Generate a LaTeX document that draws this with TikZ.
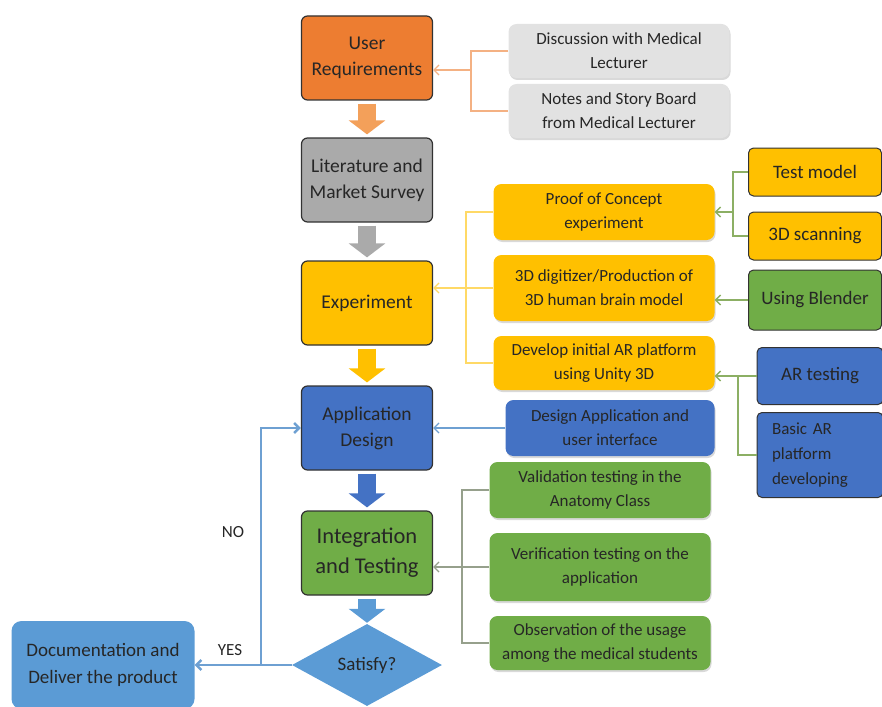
\documentclass[tikz,border=0pt]{standalone}
\usepackage{fontspec}
\setmainfont{Carlito}
\usetikzlibrary{arrows.meta,positioning,shapes.geometric,shadows}
\definecolor{boxorange}{RGB}{237,125,49}
\definecolor{boxgray}{RGB}{170,170,170}
\definecolor{boxyellow}{RGB}{255,192,0}
\definecolor{boxblue}{RGB}{68,114,196}
\definecolor{boxgreen}{RGB}{112,173,71}
\definecolor{boxsky}{RGB}{91,155,213}
\definecolor{boxlight}{RGB}{226,226,226}
\definecolor{lineblack}{RGB}{50,50,50}
\definecolor{textdark}{RGB}{38,38,38}
\definecolor{arroworange}{RGB}{243,160,90}
\definecolor{lineorange}{RGB}{244,177,131}
\definecolor{lineyellow}{RGB}{255,217,102}
\definecolor{linegreen}{RGB}{140,175,100}
\definecolor{lineblue}{RGB}{110,160,210}
\definecolor{linegray}{RGB}{150,160,140}

\begin{document}
\begin{tikzpicture}[x=1pt, y=-1pt,
  box/.style={rectangle, rounded corners=6pt, draw=lineblack, line width=1.2pt, minimum width=131pt, minimum height=84pt, align=center, text=textdark, font=\fontsize{19.5}{26}\selectfont},
  sub/.style={rectangle, rounded corners=8pt, minimum width=221pt, minimum height=56pt, align=center, text=textdark, font=\fontsize{17}{24}\selectfont, drop shadow={opacity=0.3, shadow xshift=1pt, shadow yshift=-2pt}},
  tool/.style={rectangle, rounded corners=5pt, draw=lineblack, line width=1pt, minimum width=133pt, minimum height=48pt, align=center, text=textdark, font=\fontsize{19}{25}\selectfont},
  flow/.style={line width=18pt, -{Triangle[width=36pt,length=14pt]}, shorten <=3pt, shorten >=3pt},
  arr/.style={-{Straight Barb[length=5pt,width=10pt]}, line width=1.3pt},
  lbl/.style={text=textdark, font=\fontsize{17}{20}\selectfont}
]
\useasboundingbox (0,0) rectangle (882,706);

% main column
\node[box, fill=boxorange] (ur) at (367,58) {User\\Requirements};
\node[box, fill=boxgray] (lit) at (367,180) {Literature and\\Market Survey};
\node[box, fill=boxyellow] (exp) at (367,303) {Experiment};
\node[box, fill=boxblue] (app) at (367,428) {Application\\Design};
\node[box, fill=boxgreen, font=\fontsize{22.5}{30}\selectfont] (int) at (367,553) {Integration\\and Testing};
\node[diamond, aspect=1.8, fill=boxsky, minimum width=150pt, minimum height=82pt, inner sep=0pt, text=textdark, font=\fontsize{19}{21}\selectfont] (sat) at (367,665) {Satisfy?};
\node[rectangle, rounded corners=10pt, fill=boxsky, minimum width=183pt, minimum height=88pt, align=center, text=textdark, font=\fontsize{19}{27}\selectfont] (doc) at (103,665) {Documentation and\\Deliver the product};

\draw[flow, draw=arroworange] (ur) -- (lit);
\draw[flow, draw=boxgray] (lit) -- (exp);
\draw[flow, draw=boxyellow] (exp) -- (app);
\draw[flow, draw=boxblue] (app) -- (int);
\draw[flow, draw=boxsky, shorten >=1pt] (int) -- (sat);

% yes / no
\coordinate (noturn) at (261,665);
\draw[arr, draw=lineblue, line width=2.5pt] (sat) -- (doc);
\draw[arr, draw=lineblue, line width=2.5pt] (noturn) |- (app.west);
\node[lbl] (yes) at (230,650) {YES};
\node[lbl] (no) at (233,532) {NO};

% user requirements inputs
\node[sub, fill=boxlight, minimum height=54pt] (disc) at (619,51) {Discussion with Medical\\Lecturer};
\node[sub, fill=boxlight, minimum height=54pt] (notes) at (619,111) {Notes and Story Board\\from Medical Lecturer};
\coordinate (j1) at (471,70);
\draw[draw=lineorange, line width=1.3pt] (disc.west) -| (j1) |- (notes.west);
\draw[arr, draw=lineorange] (j1) -- (j1 -| ur.east);

% experiment inputs
\node[sub, fill=boxyellow] (poc) at (604,212) {Proof of Concept\\experiment};
\node[sub, fill=boxyellow, minimum height=66pt] (digi) at (604,288) {3D digitizer/Production of\\3D human brain model};
\node[sub, fill=boxyellow, minimum height=54pt] (devar) at (604,363) {Develop initial AR platform\\using Unity 3D};
\coordinate (j2) at (466,288);
\draw[draw=lineyellow, line width=1.3pt] (poc.west) -| (j2) |- (devar.west);
\draw[arr, draw=lineyellow] (digi.west) -- (digi.west -| exp.east);

% tools
\node[tool, fill=boxyellow] (testm) at (815,172) {Test model};
\node[tool, fill=boxyellow] (scan) at (815,236) {3D scanning};
\node[tool, fill=boxgreen, minimum height=60pt] (blender) at (815,300) {Using Blender};
\node[tool, fill=boxblue, minimum width=126pt, minimum height=57pt] (artest) at (820,376) {AR testing};
\node[tool, fill=boxblue, minimum width=126pt, minimum height=85pt, text width=96pt, align=left, font=\fontsize{17}{25}\selectfont] (basicar) at (820,455) {Basic AR\\platform\\developing};
\coordinate (j3) at (733,212);
\draw[draw=linegreen, line width=1.3pt] (testm.west) -| (j3) |- (scan.west);
\draw[arr, draw=linegreen] (j3) -- (poc.east);
\draw[arr, draw=linegreen] (blender.west) -- (blender.west -| digi.east);
\coordinate (j4) at (738,376);
\draw[draw=linegreen, line width=1.3pt] (artest.west) -- (j4) |- (basicar.west);
\draw[arr, draw=linegreen] (j4) -- (j4 -| devar.east);

% design and testing inputs
\node[sub, fill=boxblue, minimum width=209pt] (desapp) at (610,428) {Design Application and\\user interface};
\draw[arr, draw=lineblue] (desapp) -- (app);
\node[sub, fill=boxgreen] (valid) at (600,490) {Validation testing in the\\Anatomy Class};
\node[sub, fill=boxgreen, minimum height=68pt] (verif) at (600,567) {Verification testing on the\\application};
\node[sub, fill=boxgreen, minimum height=54pt] (obs) at (600,643) {Observation of the usage\\among the medical students};
\coordinate (j5) at (462,567);
\draw[draw=linegray, line width=1.3pt] (valid.west) -| (j5) |- (obs.west);
\draw[arr, draw=linegray] (verif.west) -- (verif.west -| int.east);
\end{tikzpicture}
\end{document}
